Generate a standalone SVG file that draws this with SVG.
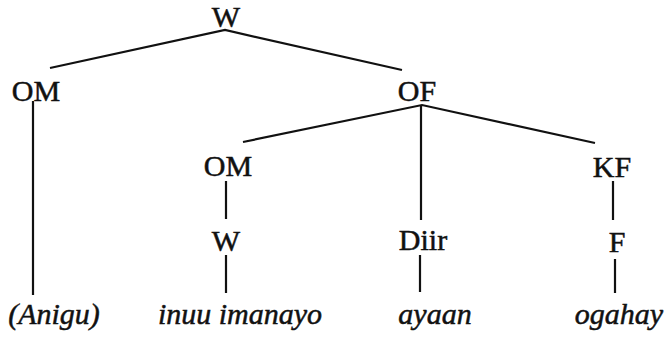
<svg xmlns="http://www.w3.org/2000/svg" width="669" height="337" viewBox="0 0 669 337">
<style>
text{font-family:"Liberation Serif","Times New Roman",serif;font-size:30px;fill:#111;stroke:#111;stroke-width:0.5;text-anchor:middle}
.it{font-style:italic}
.e{stroke:#111;stroke-width:2.2;fill:none;stroke-linecap:butt}
</style>
<rect width="669" height="337" fill="#fff"/>
<g id="connectors">
<path class="e" d="M50 68L225 30L402 70"/>
<path class="e" d="M33 101V295"/>
<path class="e" d="M243 142L422 105L595 143"/>
<path class="e" d="M421 105V220"/>
<path class="e" d="M226 181V219"/>
<path class="e" d="M226 255V293"/>
<path class="e" d="M613 181V220"/>
<path class="e" d="M420 255V292"/>
<path class="e" d="M615 259V293"/>
</g>
<g id="n-W"><text x="226" y="27">W</text></g>
<g id="n-OM1"><text x="36" y="101">OM</text></g>
<g id="n-OF"><text x="417" y="101">OF</text></g>
<g id="n-OM2"><text x="228" y="176">OM</text></g>
<g id="n-KF"><text x="612" y="177">KF</text></g>
<g id="n-W2"><text x="226" y="251">W</text></g>
<g id="n-Diir"><text x="423" y="250">Diir</text></g>
<g id="n-F"><text x="617" y="252">F</text></g>
<g id="n-Anigu"><text x="54" y="324" class="it">(Anigu)</text></g>
<g id="n-inuu"><text x="240" y="324" class="it">inuu imanayo</text></g>
<g id="n-ayaan"><text x="435" y="324" class="it">ayaan</text></g>
<g id="n-ogahay"><text x="619" y="324" class="it">ogahay</text></g>
</svg>
